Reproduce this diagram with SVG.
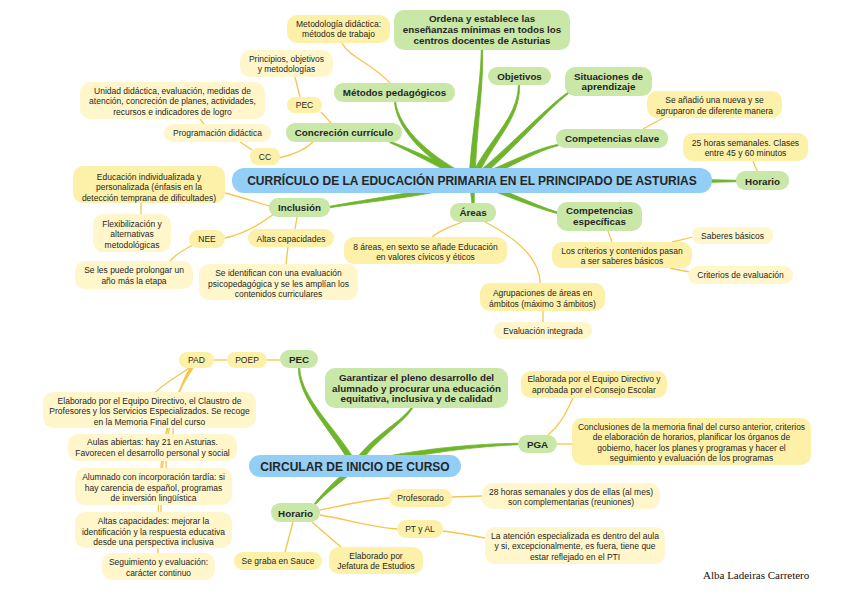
<svg xmlns="http://www.w3.org/2000/svg" width="848" height="599" viewBox="0 0 848 599">
<style>
text{font-family:"Liberation Sans",Arial,sans-serif;fill:#262626;text-anchor:middle}
.root rect{fill:#92CEF5}
.root text{font-size:12px;font-weight:bold}
.g rect{fill:#C9E7A7}
.g text{font-size:9.8px;font-weight:bold}
.y rect{fill:#FDF0A8}
.l rect{fill:#FFF6CC}
.y text,.l text{font-size:8.5px}
.gl{fill:#6FB52C;stroke:#6FB52C;stroke-width:0.8;stroke-linejoin:round}
.yl{fill:none;stroke:#F7C54A;stroke-width:1.3}
.sig{font-family:"Liberation Serif","Times New Roman",serif;font-size:11px;text-anchor:start;fill:#111}
</style>
<rect width="848" height="599" fill="#fff"/>
<g id="connectors">
<path class="gl" d="M475,181.2 C476.3,130.2 483.4,90.1 482.7,50 L481.3,50 C480.6,89.9 471.7,129.8 469,180.8 Z"/>
<path class="gl" d="M474.7,182.3 C492.1,141 520.3,120.6 519.6,85.3 L518.4,84.7 C517.7,119.4 487.9,139 469.3,179.7 Z"/>
<path class="gl" d="M474,183.2 C511.6,151.7 546,111 568.5,93.5 L567.5,92.5 C544,109 508.5,148.3 470,178.8 Z"/>
<path class="gl" d="M473.2,183.8 C510.9,167.1 535.5,151.3 558.3,145.7 L557.7,144.4 C534.5,148.7 509.1,162.9 470.8,178.2 Z"/>
<path class="gl" d="M700,182.6 L737,181.7 L737,180.3 L700,179.4 Z"/>
<path class="gl" d="M471,183.8 C499.2,192.2 529.5,206.3 557.8,213.7 L558.2,212.3 C530.5,203.7 500.8,187.8 473,178.2 Z"/>
<path class="gl" d="M469.5,181 L471.8,203 L474.2,203 L474.5,181 Z"/>
<path class="gl" d="M471.5,178 C419.6,192.7 369.8,198.6 329.9,206.3 L330.1,207.7 C370.3,201.4 420.4,197.3 472.5,184 Z"/>
<path class="gl" d="M473.3,178.3 C441,162.9 410.6,148.7 390.3,141.4 L389.7,142.6 C409.4,151.3 439,167.1 470.7,183.7 Z"/>
<path class="gl" d="M474.2,178.9 C431.7,158.4 399,129 395.5,101.5 L394.5,102.5 C397,131 428.4,161.6 469.9,183.1 Z"/>
<path class="gl" d="M357.6,464.5 C337,428.9 301.2,399.3 299.6,367.7 L298.4,368.4 C298.8,400.7 333,431.1 352.4,467.5 Z"/>
<path class="gl" d="M357.1,468.1 C371.6,441.6 401,426 412.5,408.5 L411.5,407.5 C399,424 368.4,438.4 352.9,463.9 Z"/>
<path class="gl" d="M355.4,469 C420.3,452.3 480.2,446.4 518.1,444.7 L517.9,443.3 C479.8,443.6 419.7,447.7 354.6,463 Z"/>
<path class="gl" d="M352.9,463.8 C338.4,478.3 324,491 314.5,503.5 L315.5,504.5 C326,493 341.6,481.7 357.1,468.2 Z"/>
<path class="yl" d="M342,43 C350,58 370,62 390,83"/>
<path class="yl" d="M321,112 L332,124"/>
<path class="yl" d="M295,77 L300,97"/>
<path class="yl" d="M313,142 C305,150 292,155 279,158"/>
<path class="yl" d="M240,142 L252,150"/>
<path class="yl" d="M200,119 L204,124"/>
<path class="yl" d="M225,193 C245,198 258,203 270,206"/>
<path class="yl" d="M141,203 L141,214"/>
<path class="yl" d="M274,214 C255,228 240,235 225,238"/>
<path class="yl" d="M297,217 L295,229"/>
<path class="yl" d="M193,245 C183,250 175,255 170,261"/>
<path class="yl" d="M288,247 L286,264"/>
<path class="yl" d="M462,222 C450,227 440,230 432,237"/>
<path class="yl" d="M485,222 C510,235 540,255 540,283"/>
<path class="yl" d="M543,311 L543,322"/>
<path class="yl" d="M608,231 L612,242"/>
<path class="yl" d="M672,242 C680,240 686,239 693,237"/>
<path class="yl" d="M670,268 C678,270 684,271 690,272"/>
<path class="yl" d="M643,129 L663,118"/>
<path class="yl" d="M753,161 L757,171"/>
<path class="yl" d="M267,360 L280,360"/>
<path class="yl" d="M214,360 L227,360"/>
<path class="yl" d="M189,368 C175,378 162,385 155,393"/>
<path class="yl" d="M190,368 C180,385 173,410 173,434"/>
<path class="yl" d="M191,368 C178,390 166,420 166,468"/>
<path class="yl" d="M192,368 C176,392 161,425 161,512"/>
<path class="yl" d="M193,368 C175,395 156,430 158,553"/>
<path class="yl" d="M548,435 C560,425 565,415 573,398"/>
<path class="yl" d="M557,444 L572,444"/>
<path class="yl" d="M320,510 C345,505 365,500 389,498"/>
<path class="yl" d="M452,497 L482,496"/>
<path class="yl" d="M320,515 C350,520 370,527 397,529"/>
<path class="yl" d="M443,531 C460,533 470,535 485,538"/>
<path class="yl" d="M293,522 L285,552"/>
<path class="yl" d="M312,522 L342,548"/>
</g>
<g id="root1" class="root"><rect x="232" y="168" width="480" height="25" rx="12"/><text x="472" y="185">CURRÍCULO DE LA EDUCACIÓN PRIMARIA EN EL PRINCIPADO DE ASTURIAS</text></g>
<g id="ordena" class="g"><rect x="394" y="10" width="176" height="40" rx="10"/><text x="482" y="22">Ordena y establece las</text><text x="482" y="33.2">enseñanzas mínimas en todos los</text><text x="482" y="44.3">centros docentes de Asturias</text></g>
<g id="objetivos" class="g"><rect x="488" y="67" width="63" height="18" rx="9"/><text x="519.5" y="79.5">Objetivos</text></g>
<g id="metodos" class="g"><rect x="334" y="83" width="121" height="19" rx="9"/><text x="394.5" y="96">Métodos pedagógicos</text></g>
<g id="concrecion" class="g"><rect x="286" y="123" width="116" height="19" rx="9"/><text x="344" y="136">Concreción currículo</text></g>
<g id="situaciones" class="g"><rect x="565" y="67" width="87" height="29" rx="10"/><text x="608.5" y="79.5">Situaciones de</text><text x="608.5" y="90">aprendizaje</text></g>
<g id="compclave" class="g"><rect x="556" y="129" width="112" height="19" rx="9"/><text x="612" y="142">Competencias clave</text></g>
<g id="compesp" class="g"><rect x="557" y="202" width="85" height="29" rx="10"/><text x="599.5" y="214">Competencias</text><text x="599.5" y="224.5">específicas</text></g>
<g id="areas" class="g"><rect x="450" y="203" width="46" height="19" rx="9"/><text x="473" y="216">Áreas</text></g>
<g id="inclusion" class="g"><rect x="269" y="198" width="61" height="19" rx="9"/><text x="299.5" y="211">Inclusión</text></g>
<g id="horario1" class="g"><rect x="736" y="171" width="53" height="19" rx="9"/><text x="762.5" y="184.5">Horario</text></g>
<g id="metodologia" class="y"><rect x="287" y="15" width="103" height="28" rx="10"/><text x="338.5" y="26.5">Metodología didáctica:</text><text x="338.5" y="36.5">métodos de trabajo</text></g>
<g id="principios" class="l"><rect x="240" y="50" width="93" height="27" rx="10"/><text x="286.5" y="61.5">Principios, objetivos</text><text x="286.5" y="71.5">y metodologías</text></g>
<g id="unidad" class="l"><rect x="80" y="82" width="185" height="37" rx="10"/><text x="172.5" y="93.5">Unidad didáctica, evaluación, medidas de</text><text x="172.5" y="104">atención, concreción de planes, actividades,</text><text x="172.5" y="114.5">recursos e indicadores de logro</text></g>
<g id="pec1" class="y"><rect x="287" y="97" width="35" height="16" rx="8"/><text x="304.5" y="108">PEC</text></g>
<g id="programacion" class="l"><rect x="164" y="124" width="107" height="18" rx="9"/><text x="217.5" y="136">Programación didáctica</text></g>
<g id="cc" class="y"><rect x="250" y="148" width="30" height="17" rx="8"/><text x="265" y="160">CC</text></g>
<g id="seanadio" class="y"><rect x="647" y="91" width="135" height="27" rx="10"/><text x="714.5" y="103">Se añadió una nueva y se</text><text x="714.5" y="113.5">agruparon de diferente manera</text></g>
<g id="horas25" class="y"><rect x="683" y="133" width="125" height="28" rx="10"/><text x="745.5" y="146">25 horas semanales. Clases</text><text x="745.5" y="156">entre 45 y 60 minutos</text></g>
<g id="educindiv" class="y"><rect x="73" y="166" width="152" height="37" rx="10"/><text x="149" y="179.5">Educación individualizada y</text><text x="149" y="190">personalizada (énfasis en la</text><text x="149" y="200.5">detección temprana de dificultades)</text></g>
<g id="flexib" class="l"><rect x="93" y="214" width="78" height="38" rx="10"/><text x="132" y="226.5">Flexibilización y</text><text x="132" y="237">alternativas</text><text x="132" y="247.5">metodológicas</text></g>
<g id="nee" class="y"><rect x="189" y="230" width="36" height="18" rx="9"/><text x="207" y="242">NEE</text></g>
<g id="altas1" class="y"><rect x="248" y="229" width="86" height="18" rx="9"/><text x="291" y="241.5">Altas capacidades</text></g>
<g id="seles" class="l"><rect x="75" y="261" width="118" height="28" rx="10"/><text x="134" y="273">Se les puede prolongar un</text><text x="134" y="283.5">año más la etapa</text></g>
<g id="seident" class="l"><rect x="199" y="264" width="159" height="36" rx="10"/><text x="278.5" y="276">Se identifican con una evaluación</text><text x="278.5" y="286.5">psicopedagógica y se les amplían los</text><text x="278.5" y="297">contenidos curriculares</text></g>
<g id="ochoareas" class="y"><rect x="344" y="237" width="163" height="27" rx="10"/><text x="425.5" y="249.5">8 áreas, en sexto se añade Educación</text><text x="425.5" y="260">en valores cívicos y éticos</text></g>
<g id="agrupaciones" class="y"><rect x="480" y="283" width="125" height="28" rx="10"/><text x="542.5" y="296">Agrupaciones de áreas en</text><text x="542.5" y="306.5">ámbitos (máximo 3 ámbitos)</text></g>
<g id="evalint" class="l"><rect x="494" y="322" width="98" height="17" rx="8"/><text x="543" y="333.5">Evaluación integrada</text></g>
<g id="loscriterios" class="y"><rect x="552" y="242" width="140" height="26" rx="10"/><text x="622" y="253.5">Los criterios y contenidos pasan</text><text x="622" y="264">a ser saberes básicos</text></g>
<g id="saberes" class="l"><rect x="692" y="227" width="81" height="17" rx="8"/><text x="732.5" y="238.5">Saberes básicos</text></g>
<g id="criterioseval" class="l"><rect x="688" y="266" width="105" height="18" rx="9"/><text x="740.5" y="278">Criterios de evaluación</text></g>
<g id="root2" class="root"><rect x="249" y="455" width="212" height="22" rx="11"/><text x="355" y="470.5">CIRCULAR DE INICIO DE CURSO</text></g>
<g id="pec2" class="g"><rect x="280" y="350" width="38" height="18" rx="9"/><text x="299" y="362.5">PEC</text></g>
<g id="garantizar" class="g"><rect x="325" y="368" width="183" height="40" rx="10"/><text x="416.5" y="381">Garantizar el pleno desarrollo del</text><text x="416.5" y="391.5">alumnado y procurar una educación</text><text x="416.5" y="402">equitativa, inclusiva y de calidad</text></g>
<g id="pga" class="g"><rect x="518" y="435" width="39" height="18" rx="9"/><text x="537.5" y="448">PGA</text></g>
<g id="horario2" class="g"><rect x="271" y="503" width="49" height="19" rx="9"/><text x="295.5" y="516.5">Horario</text></g>
<g id="pad" class="y"><rect x="179" y="352" width="35" height="16" rx="8"/><text x="196.5" y="363">PAD</text></g>
<g id="poep" class="y"><rect x="227" y="352" width="40" height="16" rx="8"/><text x="247" y="363">POEP</text></g>
<g id="elaborado1" class="l"><rect x="43" y="392" width="213" height="36" rx="10"/><text x="149.5" y="403.5">Elaborado por el Equipo Directivo, el Claustro de</text><text x="149.5" y="414">Profesores y los Servicios Especializados. Se recoge</text><text x="149.5" y="424.5">en la Memoria Final del curso</text></g>
<g id="aulas" class="l"><rect x="68" y="434" width="169" height="27" rx="10"/><text x="152.5" y="445">Aulas abiertas: hay 21 en Asturias.</text><text x="152.5" y="455.5">Favorecen el desarrollo personal y social</text></g>
<g id="alumnado" class="l"><rect x="75" y="468" width="157" height="37" rx="10"/><text x="153.5" y="480">Alumnado con incorporación tardía: si</text><text x="153.5" y="490.5">hay carencia de español, programas</text><text x="153.5" y="501">de inversión lingüística</text></g>
<g id="altas2" class="l"><rect x="75" y="512" width="157" height="36" rx="10"/><text x="153.5" y="524">Altas capacidades: mejorar la</text><text x="153.5" y="534.5">identificación y la respuesta educativa</text><text x="153.5" y="545">desde una perspectiva inclusiva</text></g>
<g id="seguimiento" class="l"><rect x="102" y="553" width="113" height="27" rx="10"/><text x="158.5" y="565">Seguimiento y evaluación:</text><text x="158.5" y="575.5">carácter continuo</text></g>
<g id="segraba" class="y"><rect x="234" y="552" width="88" height="18" rx="9"/><text x="278" y="564">Se graba en Sauce</text></g>
<g id="jefatura" class="y"><rect x="329" y="547" width="94" height="27" rx="10"/><text x="376" y="558.5">Elaborado por</text><text x="376" y="569">Jefatura de Estudios</text></g>
<g id="profesorado" class="y"><rect x="389" y="489" width="63" height="18" rx="9"/><text x="420.5" y="501">Profesorado</text></g>
<g id="ptyal" class="y"><rect x="397" y="520" width="46" height="18" rx="9"/><text x="420" y="532">PT y AL</text></g>
<g id="horas28" class="l"><rect x="482" y="483" width="178" height="26" rx="10"/><text x="571" y="494.5">28 horas semanales y dos de ellas (al mes)</text><text x="571" y="505">son complementarias (reuniones)</text></g>
<g id="atencion" class="l"><rect x="485" y="527" width="180" height="37" rx="10"/><text x="575" y="538.5">La atención especializada es dentro del aula</text><text x="575" y="549">y si, excepcionalmente, es fuera, tiene que</text><text x="575" y="559.5">estar reflejado en el PTI</text></g>
<g id="elaboradapga" class="y"><rect x="521" y="371" width="146" height="27" rx="10"/><text x="594" y="382">Elaborada por el Equipo Directivo y</text><text x="594" y="392.5">aprobada por el Consejo Escolar</text></g>
<g id="conclusiones" class="y"><rect x="572" y="418" width="239" height="47" rx="10"/><text x="691.5" y="430">Conclusiones de la memoria final del curso anterior, criterios</text><text x="691.5" y="440.3">de elaboración de horarios, planificar los órganos de</text><text x="691.5" y="450.6">gobierno, hacer los planes y programas y hacer el</text><text x="691.5" y="461">seguimiento y evaluación de los programas</text></g>
<text class="sig" x="703" y="579">Alba Ladeiras Carretero</text>
</svg>
